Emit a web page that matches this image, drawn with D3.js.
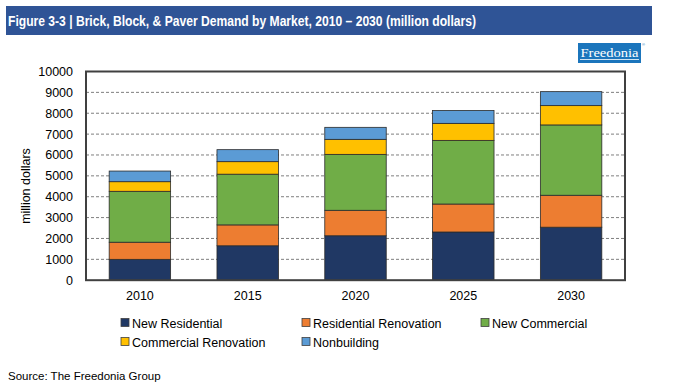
<!DOCTYPE html>
<html>
<head>
<meta charset="utf-8">
<script src="https://cdn.jsdelivr.net/npm/d3@7/dist/d3.min.js"></script>
<style>
  body { margin: 0; background: #fff; }
  text { font-family: "Liberation Sans", Arial, sans-serif; fill: #000; }
</style>
</head>
<body>
<div id="chart"></div>
<script>
/****************************************/
/*****  Data   *****/
/****************************************/
const years = ["2010", "2015", "2020", "2025", "2030"];
const newResidential = [1000, 1650, 2130, 2310, 2540];
const residentialRenovation = [820, 1000, 1220, 1340, 1530];
const newCommercial = [2440, 2430, 2680, 3050, 3370];
const commercialRenovation = [460, 600, 720, 815, 925];
const nonbuilding = [510, 575, 575, 620, 670];
const yTicks = [0, 1000, 2000, 3000, 4000, 5000, 6000, 7000, 8000, 9000, 10000];

const seriesNames = ["New Residential", "Residential Renovation", "New Commercial", "Commercial Renovation", "Nonbuilding"];
const seriesValues = [newResidential, residentialRenovation, newCommercial, commercialRenovation, nonbuilding];
const colors = ["#203864", "#ED7D31", "#70AD47", "#FFC000", "#5B9BD5"];

// table built for d3.stack
const table = years.map((y, i) => {
  const row = { year: y };
  seriesNames.forEach((s, j) => row[s] = seriesValues[j][i]);
  return row;
});

/****************************************/
/*****  Layout   *****/
/****************************************/
const width = 692;
const height = 384;
const plot = { left: 86, right: 625, top: 71.5, bottom: 280.2 };

const svg = d3.select('#chart')
  .append('svg')
    .attr('width', width)
    .attr('height', height);

// Header bar
svg.append('rect')
    .attr('x', 6)
    .attr('y', 6)
    .attr('width', 646)
    .attr('height', 29)
    .attr('fill', '#2F5496');
svg.append('text')
    .attr('x', 8)
    .attr('y', 25.5)
    .attr('font-size', 14)
    .attr('font-weight', 'bold')
    .attr('textLength', 468)
    .attr('lengthAdjust', 'spacingAndGlyphs')
    .style('font-family', '"Liberation Sans Narrow", "Liberation Sans", sans-serif')
    .style('fill', '#fff')
    .text('Figure 3-3 | Brick, Block, & Paver Demand by Market, 2010 \u2013 2030 (million dollars)');

// Freedonia logo
const logo = svg.append('g').attr('transform', 'translate(578,43)');
logo.append('rect')
    .attr('width', 63)
    .attr('height', 20)
    .attr('fill', '#1B75BC');
logo.append('line')
    .attr('x1', 2).attr('x2', 61)
    .attr('y1', 16.5).attr('y2', 16.5)
    .attr('stroke', '#fff')
    .attr('stroke-width', 0.8);
logo.append('text')
    .attr('x', 31.5)
    .attr('y', 14)
    .attr('text-anchor', 'middle')
    .attr('font-size', 13)
    .attr('textLength', 58)
    .attr('lengthAdjust', 'spacingAndGlyphs')
    .style('font-family', '"Liberation Serif", "DejaVu Serif", serif')
    .style('fill', '#fff')
    .text('Freedonia');
logo.append('text')
    .attr('x', 64)
    .attr('y', 3)
    .attr('font-size', 4)
    .style('fill', '#1B75BC')
    .text('\u00AE');

/****************************************/
/*****  Scales   *****/
/****************************************/
const x = d3.scaleBand()
  .domain(years)
  .range([plot.left, plot.right])
  .paddingInner(0.43)
  .paddingOuter(0.215);

const y = d3.scaleLinear()
  .domain([0, 10000])
  .range([plot.bottom, plot.top]);

// Gridlines (dashed)
svg.append('g')
  .selectAll('line')
  .data(yTicks.filter(d => d > 0 && d < 10000))
  .join('line')
    .attr('x1', plot.left)
    .attr('x2', plot.right)
    .attr('y1', d => y(d))
    .attr('y2', d => y(d))
    .attr('stroke', '#7F7F7F')
    .attr('stroke-width', 1)
    .attr('stroke-dasharray', '3,2');

// Bars
const stacked = d3.stack().keys(seriesNames)(table);
svg.append('g')
  .selectAll('g')
  .data(stacked)
  .join('g')
    .attr('fill', (d, i) => colors[i])
  .selectAll('rect')
  .data(d => d)
  .join('rect')
    .attr('x', d => x(d.data.year))
    .attr('y', d => y(d[1]))
    .attr('width', x.bandwidth())
    .attr('height', d => y(d[0]) - y(d[1]))
    .attr('stroke', '#2b2b2b')
    .attr('stroke-width', 0.8);

// Plot frame
svg.append('rect')
    .attr('x', plot.left)
    .attr('y', plot.top)
    .attr('width', plot.right - plot.left)
    .attr('height', plot.bottom - plot.top)
    .attr('fill', 'none')
    .attr('stroke', '#404040')
    .attr('stroke-width', 2);

// Y axis labels
const yAxis = svg.append('g')
    .attr('transform', `translate(${plot.left},0)`)
    .call(d3.axisLeft(y).tickValues(yTicks).tickSize(0).tickPadding(13).tickFormat(d3.format('d')));
yAxis.select('.domain').remove();
yAxis.selectAll('text')
    .attr('font-size', 12.5)
    .style('font-family', '"Liberation Sans", Arial, sans-serif');

// X axis labels
const xAxis = svg.append('g')
    .attr('transform', `translate(0,${plot.bottom})`)
    .call(d3.axisBottom(x).tickSize(0).tickPadding(11));
xAxis.select('.domain').remove();
xAxis.selectAll('text')
    .attr('font-size', 12.5)
    .style('font-family', '"Liberation Sans", Arial, sans-serif');

// Y axis title
svg.append('text')
    .attr('transform', 'translate(30,186) rotate(-90)')
    .attr('text-anchor', 'middle')
    .attr('font-size', 12.5)
    .text('million dollars');

/****************************************/
/*****  Legend   *****/
/****************************************/
const legendPos = [
  { x: 121, y: 323 }, { x: 302, y: 323 }, { x: 481, y: 323 },
  { x: 121, y: 342 }, { x: 302, y: 342 }
];
const legend = svg.append('g')
  .selectAll('g')
  .data(seriesNames)
  .join('g')
    .attr('transform', (d, i) => `translate(${legendPos[i].x},${legendPos[i].y})`);
legend.append('rect')
    .attr('x', 0)
    .attr('y', -4.5)
    .attr('width', 8)
    .attr('height', 8)
    .attr('fill', (d, i) => colors[i])
    .attr('stroke', '#404040')
    .attr('stroke-width', 0.8);
legend.append('text')
    .attr('x', 11)
    .attr('y', 4.5)
    .attr('font-size', 12.5)
    .text(d => d);

// Source
svg.append('text')
    .attr('x', 8)
    .attr('y', 380)
    .attr('font-size', 11.5)
    .text('Source: The Freedonia Group');
</script>
</body>
</html>
